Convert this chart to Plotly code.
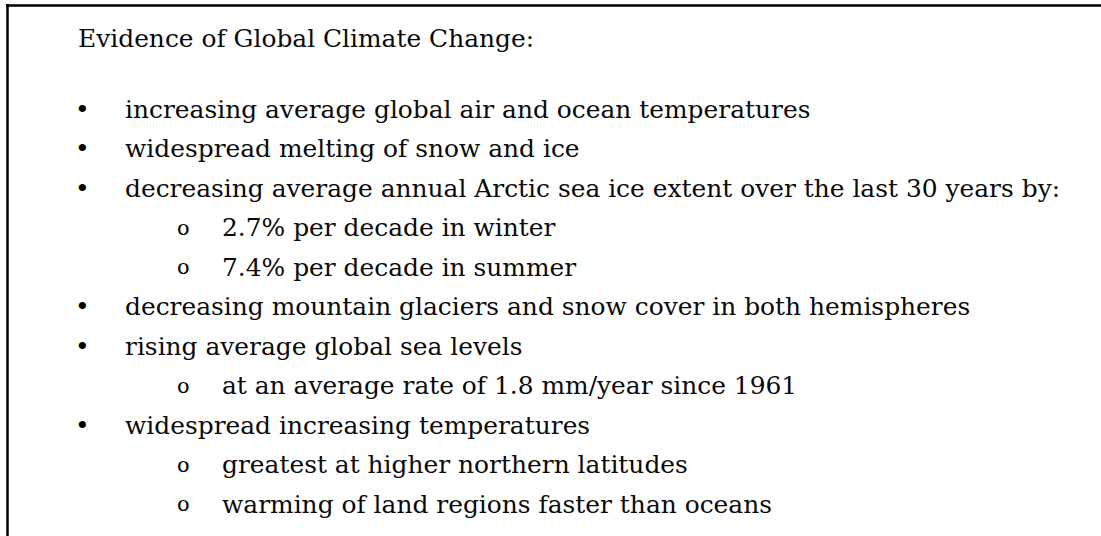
import plotly.graph_objects as go

W, H = 1101, 536

title = "Evidence of Global Climate Change:"
items = [
    "increasing average global air and ocean temperatures",
    "widespread melting of snow and ice",
    "decreasing average annual Arctic sea ice extent over the last 30 years by:",
    "2.7% per decade in winter",
    "7.4% per decade in summer",
    "decreasing mountain glaciers and snow cover in both hemispheres",
    "rising average global sea levels",
    "at an average rate of 1.8 mm/year since 1961",
    "widespread increasing temperatures",
    "greatest at higher northern latitudes",
    "warming of land regions faster than oceans",
]
levels = [0, 0, 0, 1, 1, 0, 0, 1, 0, 1, 1]

FONT = "DejaVu Serif"
SIZE = 24.9
col = "#0a0a0a"

title_y = 39
first_y = 110
step = 39.5
bullet_x = [82, 183]
text_x = [123, 220]
markers = ["\u2022", "o"]

def px(x):
    return x / W

def py(y):
    return 1 - y / H

ann = []
ann.append(dict(x=px(76), y=py(title_y - 1), xref="paper", yref="paper", text=title,
                showarrow=False, xanchor="left", yanchor="middle",
                font=dict(family=FONT, size=SIZE, color=col)))
for i, (t, lv) in enumerate(zip(items, levels)):
    y = first_y + i * step - 1
    ann.append(dict(x=px(bullet_x[lv]), y=py(y), xref="paper", yref="paper", text=markers[lv],
                    showarrow=False, xanchor="center", yanchor="middle",
                    font=dict(family=FONT, size=SIZE if lv == 0 else SIZE - 4, color="black")))
    ann.append(dict(x=px(text_x[lv]), y=py(y), xref="paper", yref="paper", text=t,
                    showarrow=False, xanchor="left", yanchor="middle",
                    font=dict(family=FONT, size=SIZE, color=col)))

shapes = [
    dict(type="line", xref="paper", yref="paper", x0=px(7.5), x1=px(7.5), y0=py(4), y1=py(H + 5),
         line=dict(color="black", width=2.5)),
    dict(type="line", xref="paper", yref="paper", x0=px(6), x1=px(W + 5), y0=py(5.5), y1=py(5.5),
         line=dict(color="black", width=2.5)),
]

fig = go.Figure()
fig.update_layout(
    width=W, height=H,
    margin=dict(l=0, r=0, t=0, b=0),
    paper_bgcolor="white", plot_bgcolor="white",
    xaxis=dict(visible=False, range=[0, 1]),
    yaxis=dict(visible=False, range=[0, 1]),
    annotations=ann, shapes=shapes, showlegend=False,
)
fig.write_html("out.html", config={"displayModeBar": False},
               post_script="document.body.style.margin='0';document.body.style.overflow='hidden';")
